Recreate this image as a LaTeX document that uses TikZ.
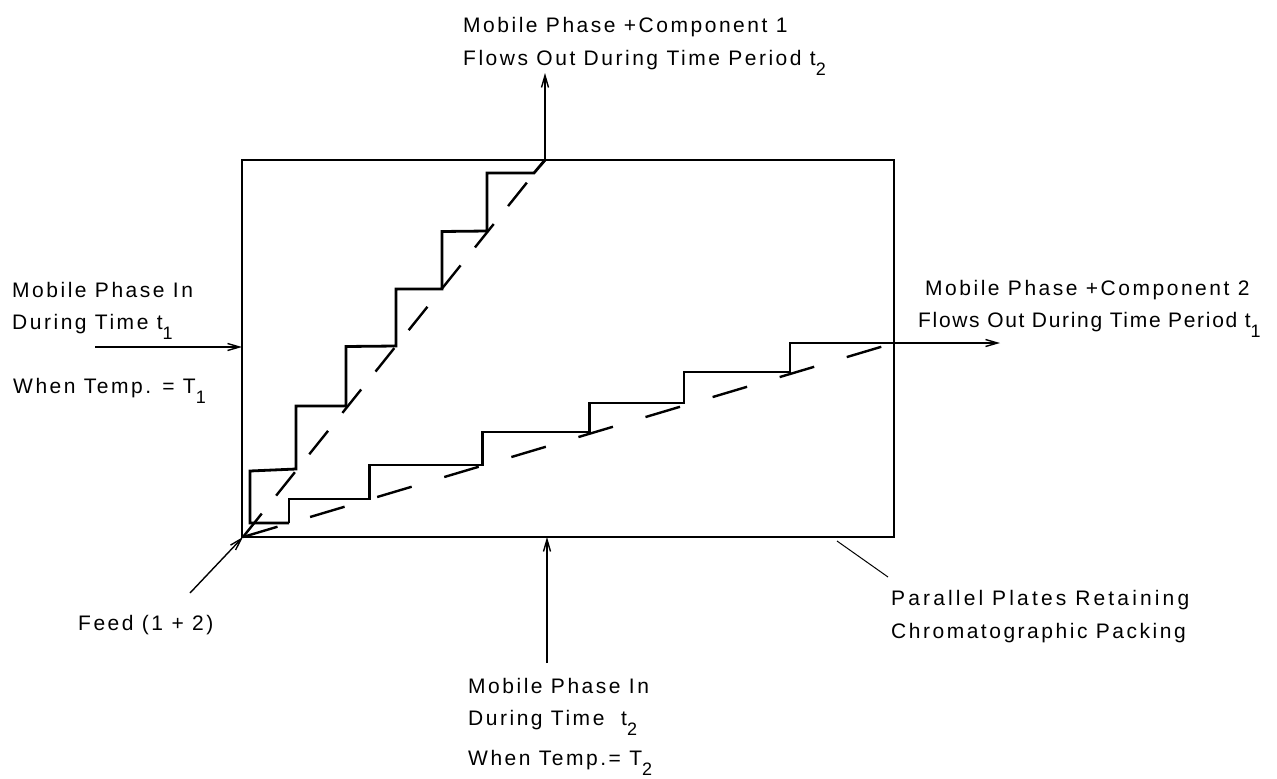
\documentclass[tikz,border=0pt]{standalone}
\usepackage{fontspec}
\usepackage{graphicx}
\setmainfont{Liberation Sans}[LetterSpace=12]
\usetikzlibrary{arrows.meta}
\newcommand\lowsub[1]{\raisebox{-0.5em}{\fontsize{18}{18}\selectfont #1}}
\begin{document}
\begin{tikzpicture}[x=1pt,y=-1pt,
  lbl/.style={anchor=base west,inner sep=0pt,font=\fontsize{21}{24}\selectfont},
  frame/.style={line width=1.7pt},
  stair/.style={line width=2.8pt,line join=miter},
  dashA/.style={line width=2.4pt,dash pattern=on 30pt off 23pt},
  dashB/.style={line width=2.4pt,dash pattern=on 36pt off 34pt},
  flow/.style={line width=1.4pt,-{Straight Barb[length=12pt,width=7pt]}},
  leader/.style={line width=1pt}]
\useasboundingbox (0,0) rectangle (1277,779);
% plates
\coordinate (tl) at (242,160);
\coordinate (br) at (894,537);
\coordinate (corner) at (243,537);
\draw[frame] (tl) rectangle (br);
% connector points
\coordinate (topin) at (545,160);
\coordinate (toptip) at (545,73);
\coordinate (lstart) at (95,347);
\coordinate (lend) at (242,347);
\coordinate (rstart) at (894,343);
\coordinate (rend) at (1000,343);
\coordinate (bstart) at (547,663);
\coordinate (bend) at (547,537);
\coordinate (fstart) at (190,593);
\coordinate (lead1) at (837,541);
\coordinate (lead2) at (888,577);
% arrows
\draw[flow] (topin) -- (toptip);
\draw[flow] (lstart) -- (lend);
\draw[flow] (rstart) -- (rend);
\draw[flow] (bstart) -- (bend);
\draw[flow] (fstart) -- (corner);
\draw[leader] (lead1) -- (lead2);
% dashed lines
\draw[dashA] (corner) -- (topin);
\draw[dashB] (corner) -- (rstart);
% staircases
\draw[stair] (289,523) -- (250,523) -- (250,471) -- (296,469) -- (296,406) -- (346,406)
  -- (346,346.5) -- (396,346) -- (396,289) -- (442,289) -- (442,231.5) -- (487,231)
  -- (487,173) -- (534,173) -- (topin);
\draw[stair] (289,523) -- (289,499) -- (369.5,499) -- (369.5,465) -- (482.5,465)
  -- (482.5,432) -- (589.5,432) -- (589.5,403) -- (684,403) -- (684,372) -- (790,372)
  -- (790,343) -- (rstart);
% labels
\node[lbl] (t1a) at (463,32) {Mobile Phase +Component 1};
\node[lbl] (t1b) at (463,65) {Flows Out During Time Period t\lowsub{2}};
\node[lbl] (la) at (12,297) {Mobile Phase In};
\node[lbl] (lb) at (12,329) {During Time t\lowsub{1}};
\node[lbl] (lc) at (13,393) {When Temp. = T\lowsub{1}};
\node[lbl] (ra) at (925,295) {Mobile Phase +Component 2};
\node[lbl] (rb) at (918,327) {\addfontfeature{LetterSpace=8}Flows Out During Time Period t\lowsub{1}};
\node[lbl] (fd) at (78,630) {Feed (1 + 2)};
\node[lbl] (pa) at (891,605) {\addfontfeature{LetterSpace=15}Parallel Plates Retaining};
\node[lbl] (pb) at (891,638) {Chromatographic Packing};
\node[lbl] (ba) at (468,693) {Mobile Phase In};
\node[lbl] (bb) at (468,725) {During Time \ t\lowsub{2}};
\node[lbl] (bc) at (468,765) {When Temp.= T\lowsub{2}};
\end{tikzpicture}
\end{document}
